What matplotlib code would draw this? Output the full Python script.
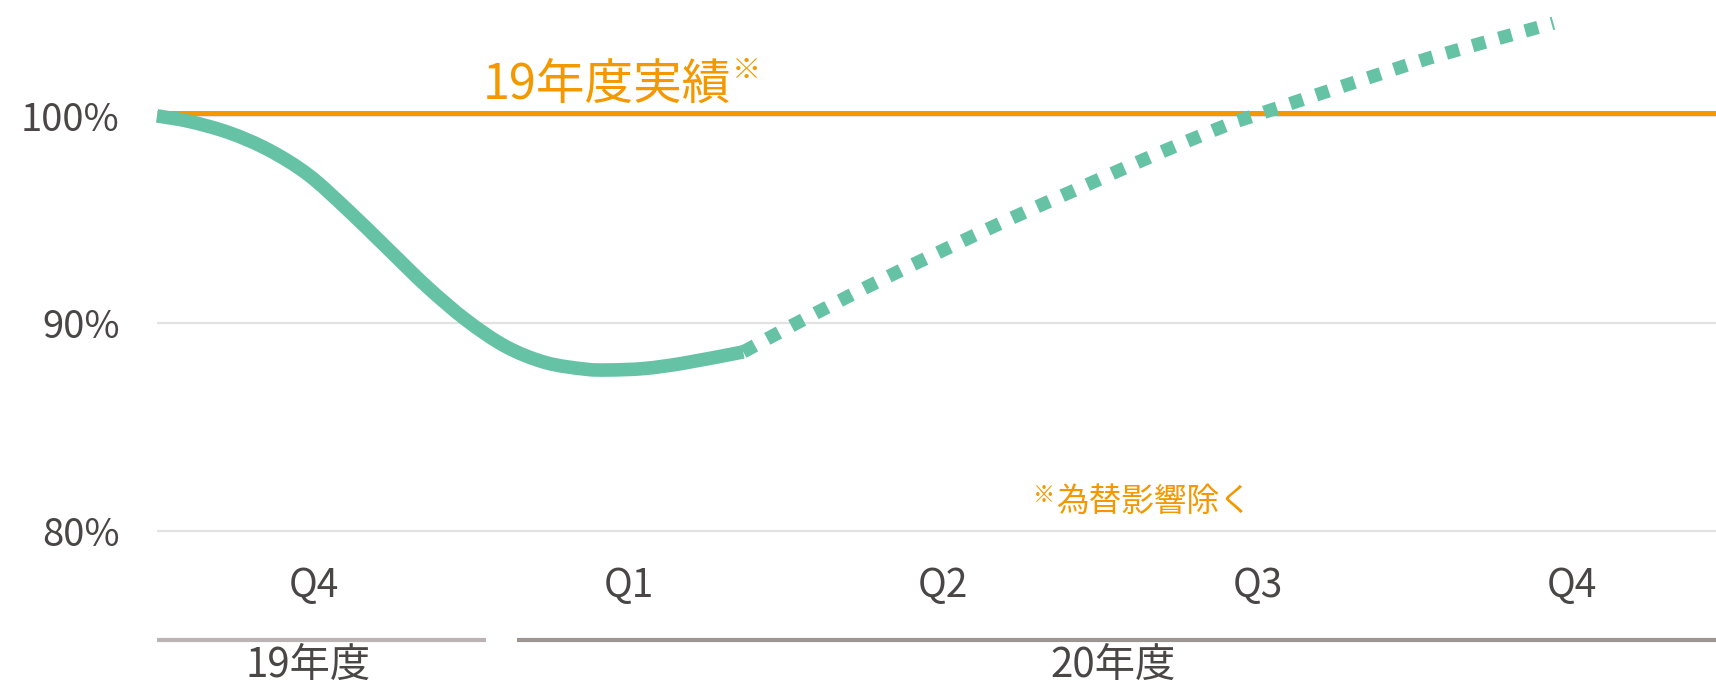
import matplotlib
matplotlib.use('Agg')
import numpy as np
import matplotlib.pyplot as plt
import matplotlib.transforms as mtransforms
from matplotlib.path import Path
from matplotlib.patches import PathPatch

plt.rcParams['font.family'] = ['Noto Sans CJK JP', 'DejaVu Sans']

# ---------------- data ----------------
categories = ['Q4', 'Q1', 'Q2', 'Q3', 'Q4']
fiscal_years = ['19年度', '20年度']
fiscal_year_sizes = [1, 4]
y_ticks = [80, 90, 100]
baseline_value = 100
baseline_label = '19年度実績'
note_mark = '※'
note_text = '為替影響除く'

# actual (solid) trajectory, x in category units from the left edge
actual_x = [0.0, 0.103, 0.229, 0.355, 0.481, 0.606, 0.732, 0.858, 0.983,
            1.109, 1.235, 1.361, 1.436, 1.549, 1.675, 1.864]
actual_y = [100.0, 99.73, 99.19, 98.36, 97.16, 95.47, 93.62, 91.77, 90.16,
            88.88, 88.11, 87.79, 87.75, 87.82, 88.08, 88.62]

# forecast (dotted) trajectory
forecast_x = [1.864, 2.029, 2.256, 2.484, 2.710, 2.944, 3.177, 3.404, 3.506,
              3.977, 4.136, 4.295, 4.440]
forecast_y = [88.62, 89.97, 91.74, 93.41, 95.02, 96.59, 98.15, 99.57, 100.10,
              102.46, 103.18, 103.86, 104.47]

# ---------------- style ----------------
GREEN = '#66C2A5'
ORANGE = '#F39800'
TEXT = '#4A4646'
GRID = '#E2E2E2'

W, H = 1716, 684
fig = plt.figure(figsize=(W / 100, H / 100), dpi=100)
ax_left, ax_top, ax_bottom = 157, 1.8, 572.2
ax = fig.add_axes([ax_left / W, 1 - ax_bottom / H, 1 - ax_left / W, (ax_bottom - ax_top) / H])
XMAX = (W - ax_left) / 314.5
ax.set_xlim(0, XMAX)
ax.set_ylim(78, 105.5)

for s in ax.spines.values():
    s.set_visible(False)
ax.set_xticks([])
ax.set_yticks(y_ticks)
ax.set_yticklabels([f'{v}%' for v in y_ticks])
ax.tick_params(axis='y', length=0, pad=27, labelsize=27.5, labelcolor=TEXT)
ax.yaxis.grid(True, color=GRID, lw=1.6)
ax.set_axisbelow(True)


def px(xp, yp):
    return ax.transData.inverted().transform((xp, H - yp))


def smooth_path(xs, ys):
    """Smoothed line through the given points (Catmull-Rom as cubic Bezier)."""
    p = np.column_stack([xs, ys])
    n = len(p)
    verts = [p[0]]
    codes = [Path.MOVETO]
    for i in range(n - 1):
        p0 = p[i - 1] if i > 0 else p[i]
        p1 = p[i]
        p2 = p[i + 1]
        p3 = p[i + 2] if i + 2 < n else p[i + 1]
        c1 = p1 + (p2 - p0) / 6.0
        c2 = p2 - (p3 - p1) / 6.0
        verts += [c1, c2, p2]
        codes += [Path.CURVE4] * 3
    return Path(verts, codes)


# baseline (19年度実績), drawn slightly above its gridline like the original
up = mtransforms.ScaledTranslation(0, 3 / 100, fig.dpi_scale_trans)
ax.plot([0, XMAX], [baseline_value, baseline_value], color=ORANGE, lw=3.6,
        solid_capstyle='butt', transform=ax.transData + up, zorder=3)

# series
ax.add_patch(PathPatch(smooth_path(actual_x, actual_y), fill=False,
                       edgecolor=GREEN, lw=9.8, capstyle='butt', joinstyle='round',
                       zorder=5, clip_on=False))
ax.add_patch(PathPatch(smooth_path(forecast_x, forecast_y), fill=False,
                       edgecolor=GREEN, lw=9.6, linestyle=(0, (1.0, 1.05)),
                       capstyle='butt', zorder=5, clip_on=False))

# category labels
for i, c in enumerate(categories):
    ax.annotate(c, xy=(i + 0.5, 0), xycoords=('data', 'axes fraction'),
                xytext=(0, -(597 - ax_bottom)), textcoords='offset pixels',
                ha='center', va='baseline', fontsize=28, color=TEXT,
                annotation_clip=False)

# fiscal-year group bars and labels
bar_colors = ['#BAB5B4', '#9B9692']
label_x = [0.48, 3.04]
bar_y = px(0, 640)[1]
start = 0
for k, (fy, n) in enumerate(zip(fiscal_years, fiscal_year_sizes)):
    end = start + n
    x0 = start + (0.145 if start > 0 else 0.0)
    x1 = min(end + 0.046, XMAX)
    ax.plot([x0, x1], [bar_y, bar_y], color=bar_colors[k], lw=3.0,
            solid_capstyle='butt', clip_on=False)
    ax.annotate(fy, xy=(label_x[k], 0), xycoords=('data', 'axes fraction'),
                xytext=(0, -(677 - ax_bottom)), textcoords='offset pixels',
                ha='center', va='baseline', fontsize=29, color=TEXT,
                annotation_clip=False)
    start = end

# label for the baseline
tx, ty = px(483, 99)
ax.text(tx, ty, baseline_label, ha='left', va='baseline', fontsize=35, color=ORANGE)
mx, my = px(746.5, 79)
ax.text(mx, my, note_mark, ha='center', va='baseline', fontsize=21, color=ORANGE)

# footnote
nx, ny = px(1044, 502)
ax.text(nx, ny, note_mark, ha='center', va='baseline', fontsize=16, color=ORANGE)
nx2, ny2 = px(1056, 510.5)
ax.text(nx2, ny2, note_text, ha='left', va='baseline', fontsize=23.5, color=ORANGE)

fig.savefig('out.png', dpi=100, facecolor='white')
